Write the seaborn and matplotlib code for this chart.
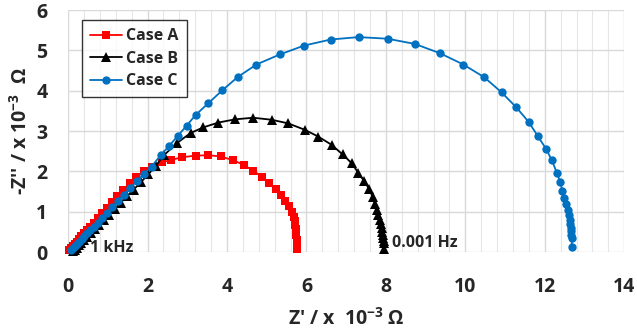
import numpy as np
import pandas as pd
import seaborn as sns
import matplotlib.pyplot as plt
from matplotlib.ticker import MultipleLocator

# --- data (units of 10^-3 ohm) ---
case_a_x = [0.03, 0.07, 0.11, 0.16, 0.21, 0.27, 0.33, 0.40, 0.47, 0.55, 0.64, 0.74,
            0.85, 0.97, 1.10, 1.24, 1.39, 1.55, 1.72, 1.90, 2.10, 2.35, 2.59, 2.86,
            3.21, 3.53, 3.84, 4.14, 4.43, 4.66, 4.87, 5.06, 5.22, 5.36, 5.47, 5.56,
            5.63, 5.68, 5.70, 5.72, 5.73, 5.74, 5.745, 5.75, 5.75, 5.755, 5.76, 5.76,
            5.76, 5.76, 5.76, 5.76]
case_a_y = [0.05, 0.10, 0.15, 0.20, 0.26, 0.32, 0.39, 0.46, 0.54, 0.63, 0.73, 0.84,
            0.96, 1.09, 1.23, 1.38, 1.54, 1.70, 1.86, 2.00, 2.12, 2.22, 2.28, 2.35,
            2.39, 2.40, 2.37, 2.28, 2.16, 2.01, 1.87, 1.70, 1.56, 1.41, 1.27, 1.14,
            1.00, 0.88, 0.77, 0.67, 0.58, 0.49, 0.41, 0.34, 0.27, 0.21, 0.16, 0.11,
            0.07, 0.04, 0.01, 0.0]

case_b_x = [0.12, 0.16, 0.21, 0.27, 0.33, 0.40, 0.48, 0.57, 0.67, 0.78, 0.90, 1.03,
            1.17, 1.32, 1.48, 1.65, 1.83, 2.02, 2.21, 2.41, 2.75, 3.08, 3.40, 3.78,
            4.20, 4.66, 5.12, 5.54, 5.96, 6.30, 6.63, 6.91, 7.14, 7.30, 7.45, 7.58,
            7.67, 7.72, 7.77, 7.81, 7.84, 7.87, 7.89, 7.91, 7.92, 7.93, 7.94, 7.945,
            7.95, 7.95, 7.95, 7.95, 7.95]
case_b_y = [0.02, 0.06, 0.11, 0.17, 0.23, 0.30, 0.38, 0.47, 0.57, 0.68, 0.80, 0.93,
            1.07, 1.22, 1.38, 1.55, 1.73, 1.93, 2.14, 2.40, 2.71, 2.95, 3.09, 3.21,
            3.29, 3.33, 3.28, 3.19, 3.03, 2.86, 2.66, 2.42, 2.20, 1.97, 1.76, 1.56,
            1.36, 1.20, 1.05, 0.92, 0.80, 0.69, 0.59, 0.50, 0.42, 0.35, 0.28, 0.22,
            0.17, 0.12, 0.08, 0.04, 0.0]

case_c_x = [0.08, 0.12, 0.17, 0.22, 0.28, 0.34, 0.41, 0.48, 0.56, 0.65, 0.75, 0.86,
            0.98, 1.11, 1.25, 1.40, 1.56, 1.73, 1.91, 2.10, 2.33, 2.55, 2.76, 2.98,
            3.21, 3.53, 3.88, 4.27, 4.74, 5.33, 5.94, 6.61, 7.31, 8.04, 8.73, 9.36,
            9.95, 10.48, 10.91, 11.28, 11.59, 11.82, 12.03, 12.18, 12.30, 12.39, 12.44,
            12.49, 12.54, 12.58, 12.61, 12.63, 12.645, 12.655, 12.665, 12.67, 12.675,
            12.68, 12.68, 12.68, 12.68, 12.68]
case_c_y = [0.06, 0.10, 0.15, 0.20, 0.26, 0.32, 0.39, 0.46, 0.54, 0.63, 0.73, 0.84,
            0.97, 1.11, 1.26, 1.42, 1.59, 1.76, 1.94, 2.12, 2.40, 2.64, 2.88, 3.13,
            3.40, 3.69, 4.01, 4.34, 4.65, 4.90, 5.12, 5.27, 5.33, 5.29, 5.16, 4.93,
            4.65, 4.33, 3.96, 3.59, 3.23, 2.88, 2.56, 2.27, 1.97, 1.73, 1.52,
            1.34, 1.18, 1.04, 0.92, 0.80, 0.70, 0.60, 0.51, 0.43, 0.35,
            0.27, 0.19, 0.12, 0.05, 0.0]

sns.set_style("white")
plt.rcParams['font.family'] = ['Open Sans', 'DejaVu Sans']
plt.rcParams['font.weight'] = 'bold'
plt.rcParams['mathtext.fontset'] = 'custom'
plt.rcParams['mathtext.rm'] = 'Open Sans:bold'
plt.rcParams['mathtext.bf'] = 'Open Sans:bold'

fig, ax = plt.subplots(figsize=(6.37, 3.36), dpi=100)
fig.subplots_adjust(left=0.107, right=0.98, top=0.970, bottom=0.25)

sns.lineplot(x=case_a_x, y=case_a_y, sort=False, ax=ax, color='#ff0000', lw=1.3,
             marker='s', markersize=6, markeredgewidth=0, label='Case A', clip_on=False)
sns.lineplot(x=case_b_x, y=case_b_y, sort=False, ax=ax, color='black', lw=1.3,
             marker='^', markersize=7, markeredgewidth=0, label='Case B', clip_on=False)
sns.lineplot(x=case_c_x, y=case_c_y, sort=False, ax=ax, color='#0070c0', lw=1.3,
             marker='o', markersize=6, markeredgewidth=0, label='Case C', clip_on=False)

ax.set_xlim(0, 14)
ax.set_ylim(0, 6)
ax.xaxis.set_major_locator(MultipleLocator(2))
ax.xaxis.set_minor_locator(MultipleLocator(0.4))
ax.yaxis.set_major_locator(MultipleLocator(1))
ax.grid(which='major', color='#d9d9d9', lw=1.0)
ax.grid(which='minor', axis='x', color='#e6e6e6', lw=0.8)
ax.set_axisbelow(True)
for s in ax.spines.values():
    s.set_visible(False)
ax.tick_params(axis='both', which='both', length=0, labelsize=14)
ax.tick_params(axis='x', pad=18)
ax.tick_params(axis='y', pad=15)
for lab in ax.get_xticklabels() + ax.get_yticklabels():
    lab.set_fontweight('bold')

ax.set_xlabel(r"Z' / x  10$^{-3}$ Ω", fontsize=14, fontweight='bold', labelpad=8)
ax.set_ylabel(r"-Z'' / x 10$^{-3}$  Ω", fontsize=14, fontweight='bold', labelpad=3)

ax.text(0.55, 0.1, '1 kHz', fontsize=11.5, fontweight='bold', va='center')
ax.text(8.15, 0.22, '0.001 Hz', fontsize=11.5, fontweight='bold', va='center')

leg = ax.legend(loc='upper left', bbox_to_anchor=(0.01, 0.99), fontsize=11.5,
                frameon=True, fancybox=False, edgecolor='black', handlelength=2.0,
                borderpad=0.5, labelspacing=0.4, handletextpad=0.3)
leg.get_frame().set_linewidth(1.0)
for t in leg.get_texts():
    t.set_fontweight('bold')

fig.savefig('out.png', dpi=100)
